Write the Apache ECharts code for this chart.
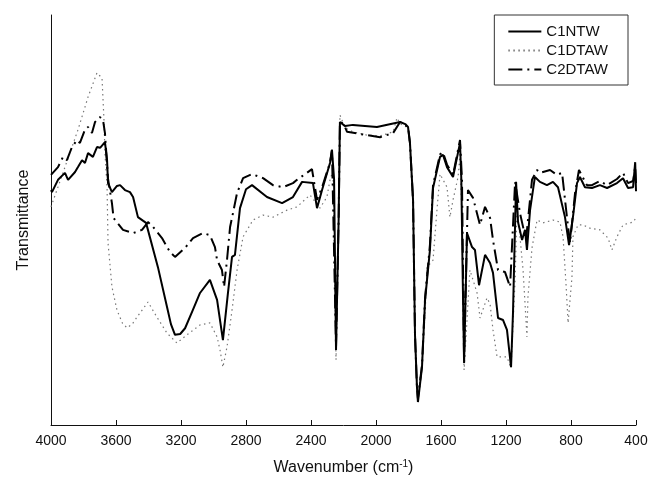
<!DOCTYPE html>
<html><head><meta charset="utf-8">
<script src="https://cdn.jsdelivr.net/npm/echarts@6/dist/echarts.min.js"></script>
<style>html,body{margin:0;padding:0;background:#fff}#c{width:652px;height:482px}</style>
</head><body><div id="c"></div>
<script>
const xTicks = [4000,3600,3200,2800,2400,2000,1600,1200,800,400];
const seriesNames = ['C1NTW','C1DTAW','C2DTAW'];
// [wavenumber, transmittance (arb. %)]
const c1ntw = [[4000,57.3],[3994,56.8],[3957,59.8],[3914,61.5],[3895,59.8],[3852,61.7],[3834,62.9],[3809,64.6],[3791,63.9],[3772,66.3],[3742,65.4],[3717,67.8],[3698,67.6],[3668,69.0],[3655,64.6],[3649,59.0],[3625,56.8],[3594,58.3],[3575,58.5],[3545,57.3],[3514,56.8],[3495,55.6],[3465,50.7],[3415,49.3],[3342,38.5],[3286,28.8],[3262,24.6],[3237,22.0],[3205,22.2],[3175,23.6],[3130,27.8],[3083,32.2],[3022,35.4],[2978,30.5],[2942,20.7],[2911,32.2],[2886,41.0],[2868,41.5],[2837,52.9],[2800,57.5],[2763,58.5],[2671,55.6],[2578,54.1],[2511,55.6],[2455,59.3],[2388,59.0],[2363,52.9],[2332,57.3],[2283,63.9],[2271,67.1],[2258,60],[2246,18.3],[2230,50],[2222,73.9],[2190,72.9],[2142,73.2],[1994,72.7],[1852,73.9],[1820,73.4],[1803,72.7],[1791,68.8],[1772,54.9],[1760,22.0],[1748,9.3],[1742,5.6],[1717,14.1],[1698,30.5],[1668,42.7],[1649,57.8],[1606,65.4],[1588,65.9],[1563,62.9],[1526,60.5],[1483,68.8],[1475,60],[1466,35],[1458,15.1],[1440,46.8],[1409,43.4],[1391,42.7],[1366,34.1],[1329,41.5],[1298,39.5],[1280,37.1],[1249,26.1],[1218,25.6],[1194,23.2],[1169,14.1],[1157,27.3],[1138,59.3],[1126,49.5],[1101,45.1],[1083,47.6],[1071,42.7],[1052,52.4],[1022,60.5],[991,59.3],[948,58.5],[911,59.3],[880,58.0],[837,50.7],[812,43.9],[788,50.7],[763,59.0],[745,60.5],[714,58.0],[671,57.8],[622,58.5],[578,57.8],[517,59.0],[480,60.2],[449,57.8],[418,58.0],[405,64.1],[400,57.0]];
const c1dtaw = [[4000,53.2],[3914,62.9],[3834,72.0],[3772,80.0],[3717,85.9],[3686,84.6],[3674,74.4],[3668,66.3],[3655,58.0],[3649,44.4],[3625,33.7],[3594,28.0],[3560,24.8],[3532,23.7],[3500,24.6],[3471,26.3],[3403,30.0],[3348,26.3],[3286,22.4],[3225,20.0],[3163,22.0],[3083,24.4],[3022,24.9],[2978,21.5],[2960,18.3],[2942,14.1],[2917,19.0],[2886,28.0],[2855,37.8],[2818,45.9],[2757,50.0],[2695,51.2],[2634,50.7],[2548,52.4],[2486,53.2],[2406,56.1],[2345,52.9],[2302,55.6],[2283,59.8],[2265,62],[2246,15.9],[2230,50],[2222,75.6],[2190,72.5],[2142,71.5],[2055,70.7],[1975,70.5],[1895,71.5],[1871,74.9],[1852,73.5],[1803,72.5],[1791,68],[1772,53],[1760,22],[1748,10],[1742,7],[1717,15],[1698,27],[1686,38.5],[1649,40.2],[1625,52.4],[1606,61.2],[1563,58.0],[1545,50.7],[1526,54.9],[1495,60.5],[1483,66],[1471,50],[1458,13.4],[1422,37.8],[1378,32.2],[1360,26.1],[1317,31.0],[1298,29.5],[1280,23.2],[1255,16.6],[1225,16.6],[1194,16.6],[1169,13.9],[1144,35.4],[1132,53.2],[1114,45.9],[1095,37.8],[1071,21.5],[1065,31.2],[1040,43.2],[1009,50.0],[972,49.3],[911,50.0],[868,49.5],[849,45.9],[831,34.6],[818,24.9],[794,36.1],[788,45.9],[757,48.8],[726,48.8],[683,48.0],[622,47.6],[572,45.6],[548,42.7],[517,45.9],[480,48.8],[418,49.5],[400,50.5]];
const c2dtaw = [[4000,61.0],[3994,61.0],[3957,62.9],[3926,65.4],[3902,64.6],[3871,67.8],[3840,69.5],[3822,68.8],[3791,72.0],[3772,72.7],[3748,71.2],[3729,73.9],[3698,75.1],[3680,74.4],[3668,71.2],[3649,60],[3625,54.1],[3615,50.5],[3606,50.5],[3557,47.6],[3495,46.8],[3440,47.6],[3403,49.5],[3372,48.3],[3317,45.6],[3268,42.2],[3237,41.0],[3175,43.2],[3126,45.6],[3065,46.8],[3022,46.3],[2991,43.4],[2978,40.2],[2948,37.8],[2935,33.7],[2917,40.2],[2898,48.3],[2880,51.7],[2855,56.6],[2818,60.2],[2763,61.2],[2695,60.2],[2634,58.5],[2572,58.0],[2511,59.0],[2486,59.8],[2394,62.4],[2363,54.9],[2332,58.0],[2283,64.0],[2271,67.1],[2246,19.0],[2230,50],[2222,73.9],[2200,73.5],[2178,71.5],[2055,70.7],[1975,70.2],[1895,71.2],[1852,73.9],[1803,72.7],[1791,68.8],[1772,54.9],[1760,22.0],[1748,9.3],[1742,6.5],[1717,14.5],[1698,31],[1668,44],[1649,58.5],[1606,66],[1588,66.5],[1563,63.5],[1526,61],[1483,69.5],[1471,60],[1458,16],[1434,57.3],[1403,55.4],[1360,48.8],[1329,53.2],[1298,50.5],[1280,45.1],[1249,37.8],[1206,37.3],[1175,33.7],[1144,59.3],[1114,51.7],[1077,45.1],[1040,59.8],[1009,62.2],[991,61.5],[929,62.2],[886,61.0],[855,61.5],[825,50.7],[806,44.4],[775,56.6],[751,62.2],[702,58.5],[671,58.5],[622,59.5],[578,58.5],[517,60.0],[480,61.5],[449,59.0],[418,59.5],[405,63],[400,59]];

const chart = echarts.init(document.getElementById('c'), null, {renderer:'canvas'});
const FONT = 'Liberation Sans, Arial, sans-serif';
chart.setOption({
  animation:false,
  backgroundColor:'#fff',
  grid:{left:51,right:16,top:15,bottom:57,containLabel:false},
  legend:{
    orient:'vertical', right:24, top:15,
    backgroundColor:'#fff', borderColor:'#333', borderWidth:1,
    padding:[9,20,8,13], itemGap:4, itemWidth:33, itemHeight:14,
    itemStyle:{color:'rgba(0,0,0,0)', borderColor:'rgba(0,0,0,0)', borderWidth:0},
    textStyle:{fontFamily:FONT,fontSize:15,color:'#111'},
    data:seriesNames
  },
  xAxis:{
    type:'value', inverse:true, min:400, max:4000, interval:400,
    name:'{a|Wavenumber (cm}{s|-1}{a|)}', nameLocation:'middle', nameGap:34,
    nameTextStyle:{rich:{a:{fontFamily:FONT,fontSize:16,color:'#111'},s:{fontFamily:FONT,fontSize:10,color:'#111',verticalAlign:'top',padding:[0,0,8,0]}}},
    axisLine:{show:true,lineStyle:{color:'#111',width:1}},
    axisTick:{show:true,inside:true,length:5,lineStyle:{color:'#111'}},
    axisLabel:{fontFamily:FONT,fontSize:14,color:'#111',margin:9,
      formatter:function(v){return xTicks.indexOf(v)>=0?String(v):'';}},
    splitLine:{show:false}
  },
  yAxis:{
    type:'value', min:0, max:100,
    name:'Transmittance', nameLocation:'middle', nameGap:19,
    nameTextStyle:{fontFamily:FONT,fontSize:16,color:'#111'},
    axisLine:{show:true,lineStyle:{color:'#111',width:1}},
    axisTick:{show:false}, axisLabel:{show:false}, splitLine:{show:false}
  },
  series:[
    {name:'C1NTW',type:'line',data:c1ntw,showSymbol:false,symbol:'none',z:3,
     lineStyle:{color:'#000',width:2},itemStyle:{color:'#000'}},
    {name:'C1DTAW',type:'line',data:c1dtaw,showSymbol:false,symbol:'none',z:1,
     lineStyle:{color:'#777',width:1.2,type:[1.5,3.5]},itemStyle:{color:'#777'}},
    {name:'C2DTAW',type:'line',data:c2dtaw,showSymbol:false,symbol:'none',z:2,
     lineStyle:{color:'#000',width:2,type:[14,5,2,5]},itemStyle:{color:'#000'}}
  ]
});
</script></body></html>
